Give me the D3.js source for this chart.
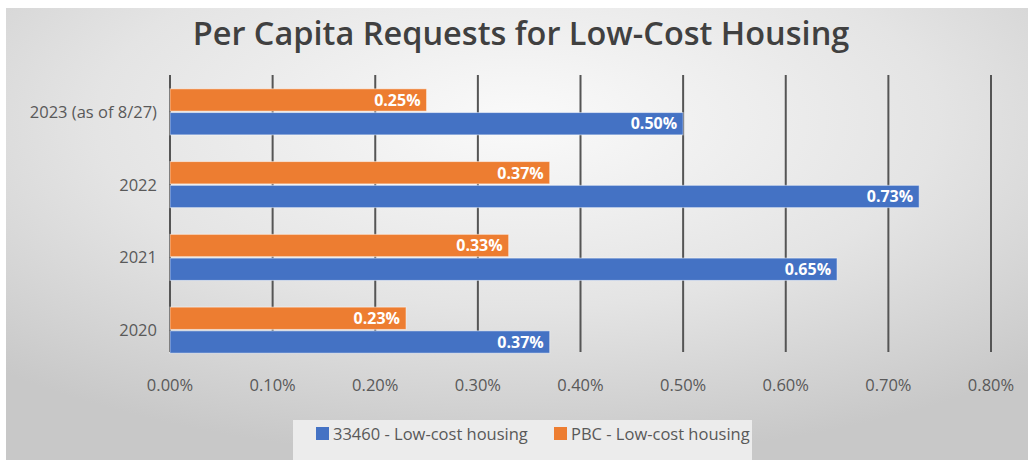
<!DOCTYPE html>
<html>
<head>
<meta charset="utf-8">
<script src="https://cdn.jsdelivr.net/npm/d3@7"></script>
<style>
  html, body { margin: 0; padding: 0; background: #ffffff; }
  svg { display: block; }
</style>
</head>
<body>
<svg id="chart" width="1028" height="460"></svg>
<script>
// Categories (top to bottom) and series values in percent
const categories = ["2023 (as of 8/27)", "2022", "2021", "2020"];
const seriesNames = ["PBC - Low-cost housing", "33460 - Low-cost housing"];
const pbcValues = [0.25, 0.37, 0.33, 0.23];
const zipValues = [0.50, 0.73, 0.65, 0.37];
const xTicks = [0, 0.1, 0.2, 0.3, 0.4, 0.5, 0.6, 0.7, 0.8];
const legendOrder = ["33460 - Low-cost housing", "PBC - Low-cost housing"];

const colors = {
  "PBC - Low-cost housing": "#ED7D31",
  "33460 - Low-cost housing": "#4472C4"
};

const svg = d3.select("#chart");
const W = 1028, H = 460;

// Background panel with soft radial shading
const defs = svg.append("defs");
const grad = defs.append("radialGradient")
  .attr("id", "bg").attr("cx", "50%").attr("cy", "25%").attr("r", "75%");
grad.append("stop").attr("offset", "0%").attr("stop-color", "#fafafa");
grad.append("stop").attr("offset", "55%").attr("stop-color", "#e4e4e4");
grad.append("stop").attr("offset", "100%").attr("stop-color", "#c8c8c8");

svg.append("rect").attr("x", 6).attr("y", 8).attr("width", W - 6).attr("height", H - 8)
  .attr("fill", "url(#bg)");

const font = "'Open Sans', 'Noto Sans', sans-serif";
const labelSize = 16.5;

// Title
svg.append("text")
  .attr("x", 521).attr("y", 45)
  .attr("text-anchor", "middle")
  .attr("font-family", font)
  .attr("font-size", 32.5)
  .attr("font-weight", 600)
  .attr("fill", "#404040")
  .text("Per Capita Requests for Low-Cost Housing");

// Scales
const x = d3.scaleLinear().domain([0, 0.8]).range([170, 991]);
const y = d3.scaleBand().domain(categories).range([75, 367]).paddingInner(0.367).paddingOuter(0.19);
const sub = d3.scaleBand().domain(seriesNames).range([0, y.bandwidth()]).paddingInner(0.06);

// Vertical gridlines
svg.append("g").selectAll("line").data(xTicks).join("line")
  .attr("x1", d => x(d)).attr("x2", d => x(d))
  .attr("y1", 75).attr("y2", 352)
  .attr("stroke", "#555555").attr("stroke-width", 2);

// Bars
const rows = categories.map((c, i) => ({
  cat: c,
  vals: [
    { s: seriesNames[0], v: pbcValues[i] },
    { s: seriesNames[1], v: zipValues[i] }
  ]
}));

const gRow = svg.append("g").selectAll("g").data(rows).join("g")
  .attr("transform", d => `translate(0,${y(d.cat)})`);

gRow.selectAll("rect").data(d => d.vals).join("rect")
  .attr("x", x(0))
  .attr("y", d => sub(d.s))
  .attr("width", d => x(d.v) - x(0))
  .attr("height", sub.bandwidth())
  .attr("fill", d => colors[d.s])
  .attr("stroke", "rgba(255,255,255,0.5)")
  .attr("stroke-width", 1);

gRow.selectAll("text").data(d => d.vals).join("text")
  .attr("x", d => x(d.v) - 6)
  .attr("y", d => sub(d.s) + sub.bandwidth() / 2)
  .attr("dy", "0.36em")
  .attr("text-anchor", "end")
  .attr("font-family", font)
  .attr("font-size", 16)
  .attr("font-weight", 700)
  .attr("fill", "#ffffff")
  .text(d => d.v.toFixed(2) + "%");

// Category labels
svg.append("g").selectAll("text").data(categories).join("text")
  .attr("x", 157)
  .attr("y", d => y(d) + y.bandwidth() / 2)
  .attr("dy", "0.36em")
  .attr("text-anchor", "end")
  .attr("font-family", font)
  .attr("font-size", labelSize)
  .attr("fill", "#595959")
  .text(d => d);

// X axis labels
svg.append("g").selectAll("text").data(xTicks).join("text")
  .attr("x", d => x(d))
  .attr("y", 385)
  .attr("dy", "0.36em")
  .attr("text-anchor", "middle")
  .attr("font-family", font)
  .attr("font-size", labelSize)
  .attr("fill", "#595959")
  .text(d => d.toFixed(2) + "%");

// Legend
svg.append("rect").attr("x", 293).attr("y", 420).attr("width", 459).attr("height", 40)
  .attr("fill", "#ececec");
const legendX = [316, 554];
const lg = svg.append("g").selectAll("g").data(legendOrder).join("g")
  .attr("transform", (d, i) => `translate(${legendX[i]},434)`);
lg.append("rect").attr("x", 0).attr("y", -7).attr("width", 13).attr("height", 13)
  .attr("fill", d => colors[d]);
lg.append("text").attr("x", 17).attr("dy", "0.36em")
  .attr("font-family", font).attr("font-size", labelSize).attr("fill", "#595959")
  .text(d => d);
</script>
</body>
</html>
